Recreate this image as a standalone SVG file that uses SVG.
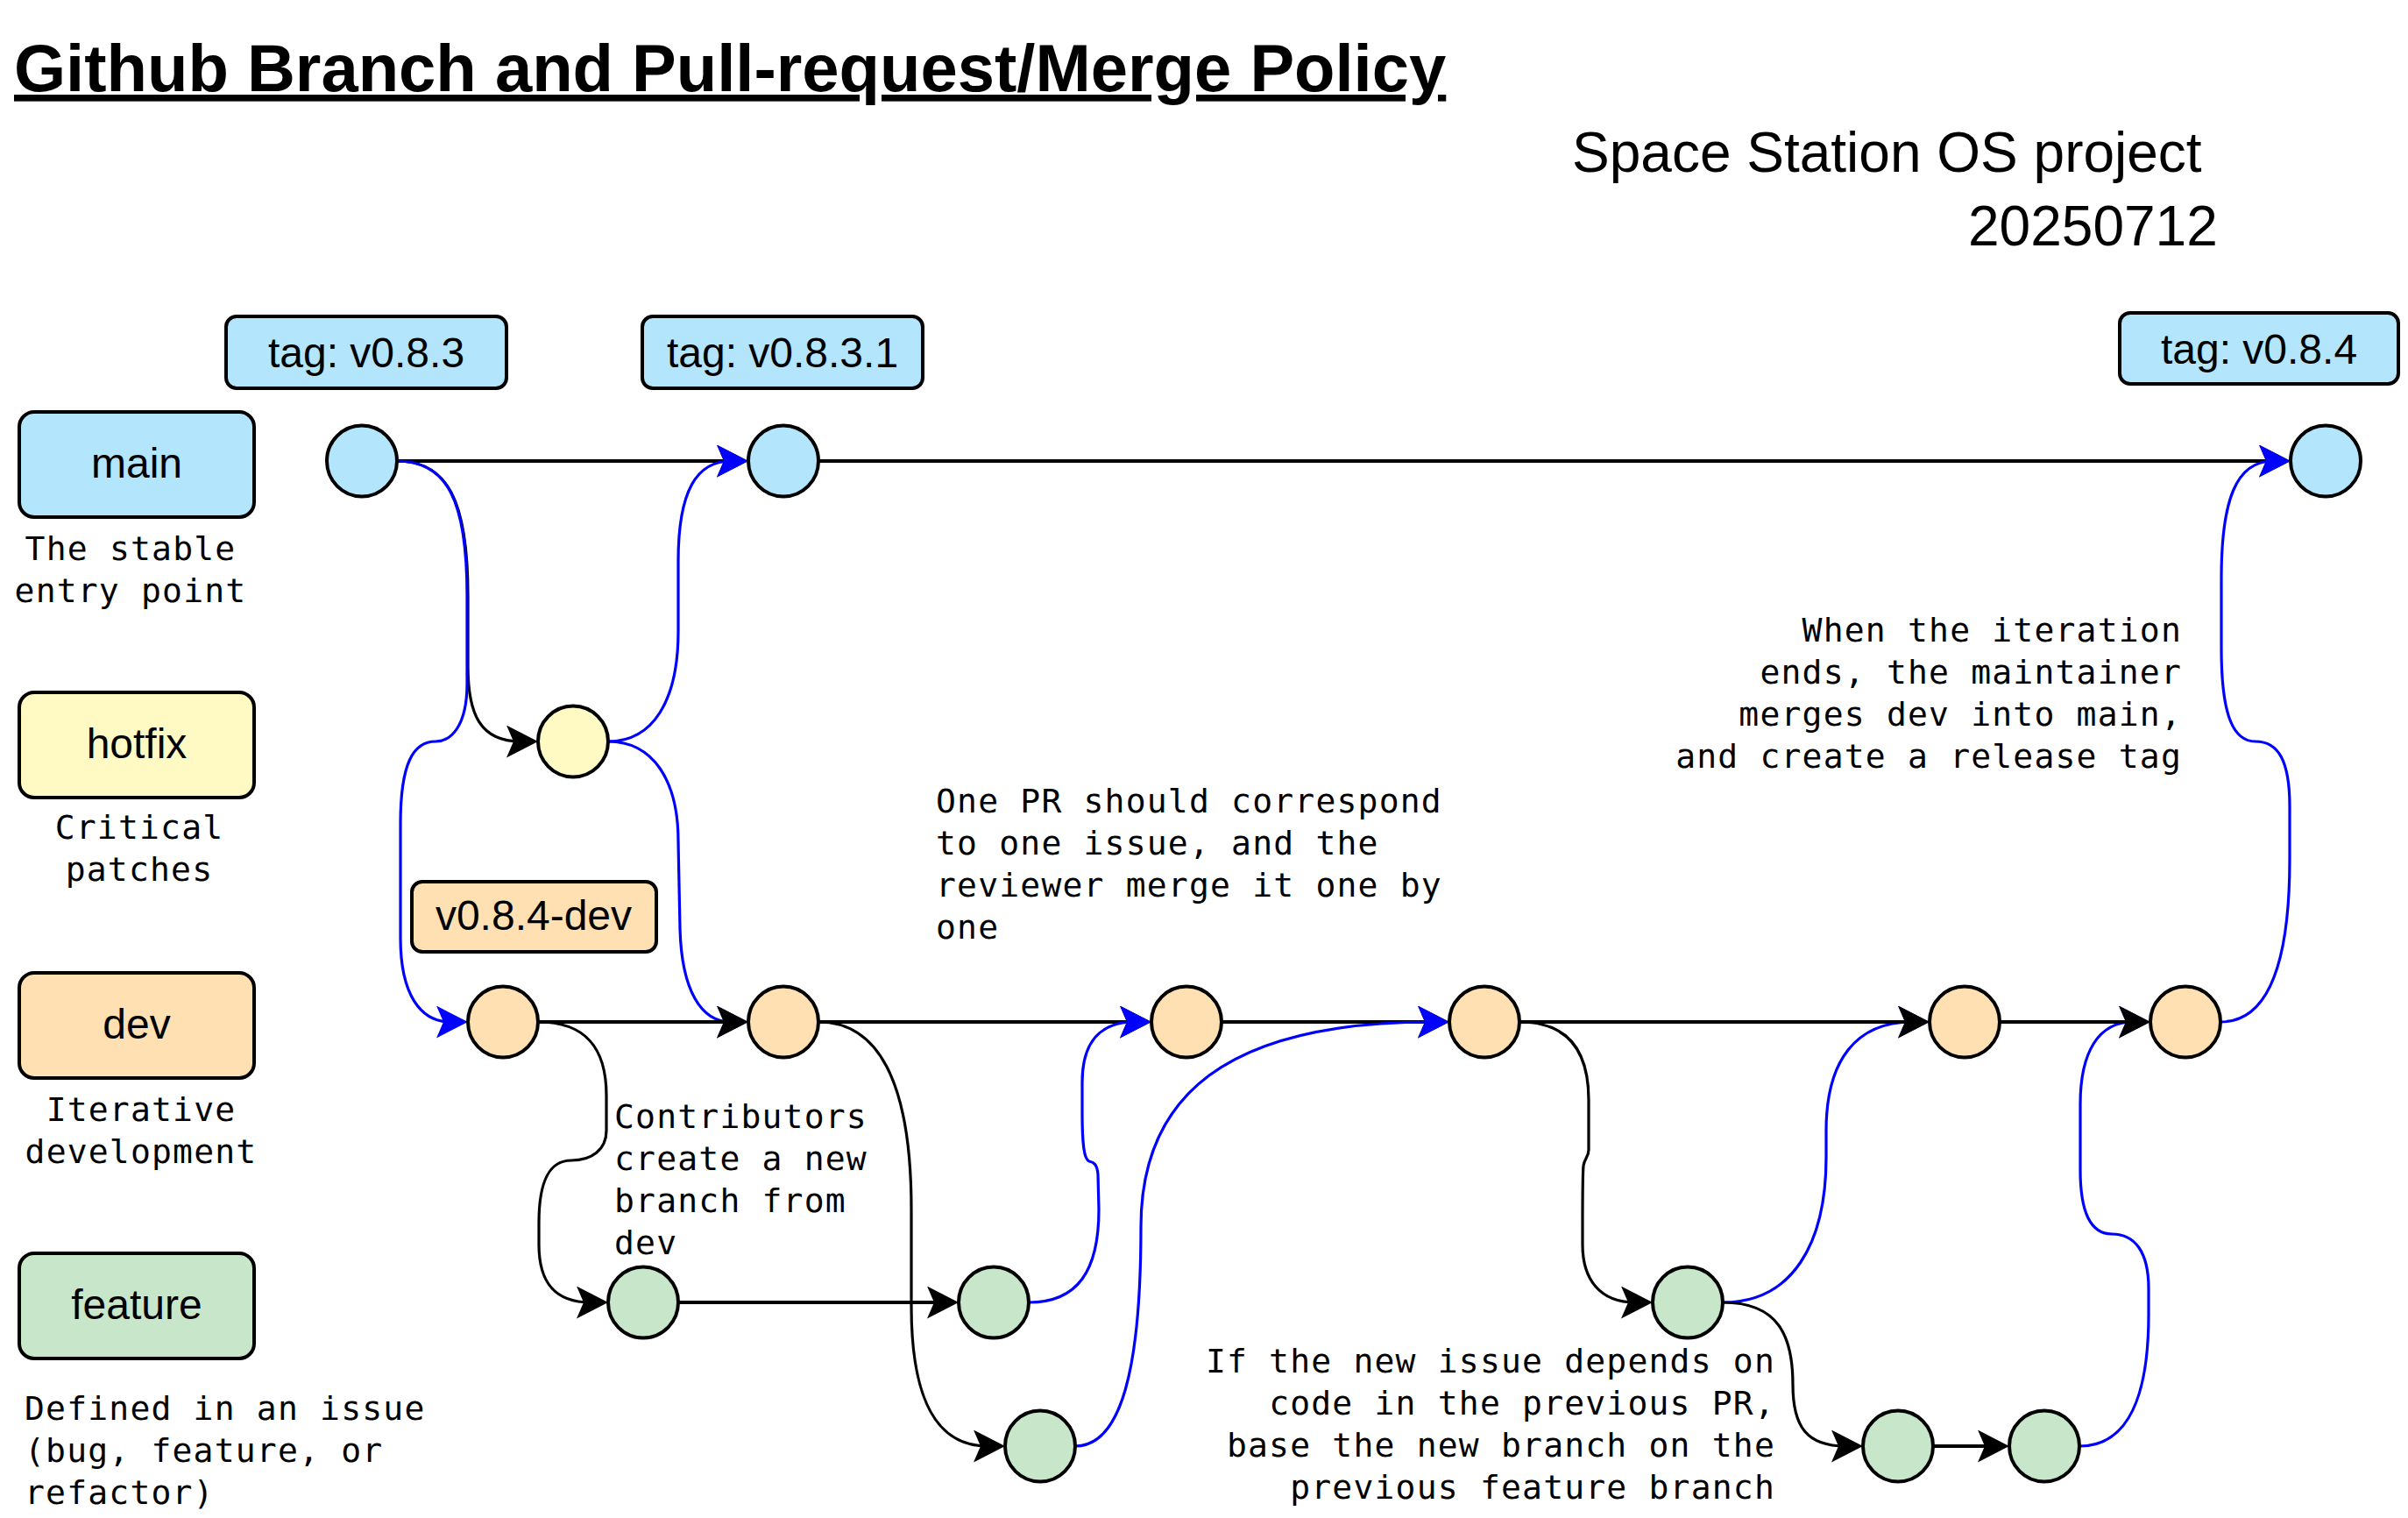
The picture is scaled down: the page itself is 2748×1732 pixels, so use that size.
<svg xmlns="http://www.w3.org/2000/svg" width="2748" height="1732" viewBox="0 0 2748 1732">
<style>
.bg{fill:#ffffff}
.box{stroke:#000;stroke-width:4}
.c{stroke:#000;stroke-width:4}
.main{fill:#b3e5fc}
.hot{fill:#fff9c4}
.dev{fill:#ffe0b2}
.feat{fill:#c8e6c9}
.lbl{font-family:"Liberation Sans",Arial,sans-serif;font-size:48px;fill:#000;text-anchor:middle}
.note{font-family:"DejaVu Sans Mono",monospace;font-size:38px;letter-spacing:1.2px;fill:#000}
.mid{text-anchor:middle}
.end{text-anchor:end}
.e{fill:none;stroke-width:3.2}
.s{fill:none;stroke-width:4}
.k{stroke:#000}
.b{stroke:#0000ff}
.ka{marker-end:url(#arrK)}
.ba{marker-end:url(#arrB)}
</style>
<defs>
<marker id="arrK" markerUnits="userSpaceOnUse" viewBox="0 0 36 37" refX="16" refY="18.5" markerWidth="36" markerHeight="37" orient="auto">
<path d="M0 0 L36 18.5 L0 37 L8 18.5 Z" fill="#000"/>
</marker>
<marker id="arrB" markerUnits="userSpaceOnUse" viewBox="0 0 36 37" refX="16" refY="18.5" markerWidth="36" markerHeight="37" orient="auto">
<path d="M0 0 L36 18.5 L0 37 L8 18.5 Z" fill="#0000ff"/>
</marker>
</defs>
<rect class="bg" x="0" y="0" width="2748" height="1732"/>

<g id="title">
<text x="16" y="104" font-family="'Liberation Sans',Arial,sans-serif" font-size="76" font-weight="bold" text-decoration="underline">Github Branch and Pull-request/Merge Policy</text>
<text x="1794" y="196" font-family="'Liberation Sans',Arial,sans-serif" font-size="64">Space Station OS project</text>
<text x="2246" y="280" font-family="'Liberation Sans',Arial,sans-serif" font-size="64">20250712</text>
</g>

<g id="branch-main">
<rect class="box main" x="22" y="470" width="268" height="120" rx="17"/>
<text class="lbl" x="156" y="545">main</text>
<text class="note mid" x="149" y="639">The stable</text>
<text class="note mid" x="149" y="687">entry point</text>
</g>
<g id="branch-hotfix">
<rect class="box hot" x="22" y="790" width="268" height="120" rx="17"/>
<text class="lbl" x="156" y="865">hotfix</text>
<text class="note mid" x="159" y="957">Critical</text>
<text class="note mid" x="159" y="1005">patches</text>
</g>
<g id="branch-dev">
<rect class="box dev" x="22" y="1110" width="268" height="120" rx="17"/>
<text class="lbl" x="156" y="1185">dev</text>
<text class="note mid" x="161" y="1279">Iterative</text>
<text class="note mid" x="161" y="1327">development</text>
</g>
<g id="branch-feature">
<rect class="box feat" x="22" y="1430" width="268" height="120" rx="17"/>
<text class="lbl" x="156" y="1505">feature</text>
<text class="note" x="28" y="1620">Defined in an issue</text>
<text class="note" x="28" y="1668">(bug, feature, or</text>
<text class="note" x="28" y="1716">refactor)</text>
</g>

<g id="tag-v083">
<rect class="box main" x="258" y="361" width="320" height="82" rx="12"/>
<text class="lbl" x="418" y="419">tag: v0.8.3</text>
</g>
<g id="tag-v0831">
<rect class="box main" x="733" y="361" width="320" height="82" rx="12"/>
<text class="lbl" x="893" y="419">tag: v0.8.3.1</text>
</g>
<g id="tag-v084">
<rect class="box main" x="2419" y="357" width="318" height="81" rx="12"/>
<text class="lbl" x="2578" y="415">tag: v0.8.4</text>
</g>
<g id="tag-v084dev">
<rect class="box dev" x="470" y="1006" width="279" height="80" rx="12"/>
<text class="lbl" x="609" y="1061" font-size="44">v0.8.4-dev</text>
</g>

<g id="notes">
<text class="note" x="701" y="1287">Contributors</text>
<text class="note" x="701" y="1335">create a new</text>
<text class="note" x="701" y="1383">branch from</text>
<text class="note" x="701" y="1431">dev</text>
<text class="note" x="1068" y="927">One PR should correspond</text>
<text class="note" x="1068" y="975">to one issue, and the</text>
<text class="note" x="1068" y="1023">reviewer merge it one by</text>
<text class="note" x="1068" y="1071">one</text>
<text class="note end" x="2490" y="732">When the iteration</text>
<text class="note end" x="2490" y="780">ends, the maintainer</text>
<text class="note end" x="2490" y="828">merges dev into main,</text>
<text class="note end" x="2490" y="876">and create a release tag</text>
<text class="note end" x="2026" y="1566">If the new issue depends on</text>
<text class="note end" x="2026" y="1614">code in the previous PR,</text>
<text class="note end" x="2026" y="1662">base the new branch on the</text>
<text class="note end" x="2026" y="1710">previous feature branch</text>
</g>

<g id="connectors">
<path class="s k ka" d="M453 526 H834"/>
<path class="s k ka" d="M934 526 H2594"/>
<path class="s k ka" d="M934 1166 H1294"/>
<path class="s k ka" d="M1394 1166 H1634"/>
<path class="e k ka" d="M453 526 C510 526 534 570 534 680 L534 760 C534 815 548 846 594 846"/>

<path class="e b ba" d="M453 526 C510 526 533 570 533 680 L533 780 C533 828 515 846 497 846 C472 846 457 870 457 940 L457 1070 C457 1135 480 1166 514 1166"/>
<path class="e b ba" d="M694 846 C745 846 774 800 774 720 L774 640 C774 560 795 526 834 526"/>
<path class="e b ba" d="M694 846 C745 846 774 890 774 960 L776 1060 C778 1130 800 1166 834 1166"/>
<path class="e b ba" d="M1174 1486 C1230 1486 1254 1450 1254 1380 L1253 1340 C1252 1328 1248 1326 1243 1325 C1237 1323 1235 1305 1235 1270 L1235 1235 C1235 1190 1255 1166 1294 1166"/>
<path class="e b ba" d="M1227 1650 C1280 1650 1302 1560 1302 1400 C1302 1250 1400 1166 1634 1166"/>
<path class="e b ba" d="M1966 1486 C2045 1486 2084 1420 2084 1320 L2084 1290 C2084 1210 2118 1166 2182 1166"/>
<path class="e b ba" d="M2373 1650 C2430 1650 2452 1590 2452 1500 L2452 1470 C2452 1428 2436 1408 2410 1408 C2386 1408 2374 1385 2374 1335 L2374 1260 C2374 1200 2395 1166 2434 1166"/>
<path class="e b ba" d="M2534 1166 C2592 1166 2613 1090 2613 980 L2613 920 C2613 868 2600 846 2574 846 C2550 846 2535 820 2535 740 L2535 660 C2535 570 2552 526 2594 526"/>

<path class="s k ka" d="M614 1166 H834"/>
<path class="s k ka" d="M1734 1166 H2182"/>
<path class="s k ka" d="M2282 1166 H2434"/>
<path class="s k ka" d="M774 1486 H1074"/>
<path class="s k ka" d="M2206 1650 H2273"/>
<path class="e k ka" d="M614 1166 C668 1166 692 1195 692 1250 L692 1290 C692 1312 675 1324 652 1324 C628 1324 615 1345 615 1395 L615 1420 C615 1462 632 1486 674 1486"/>
<path class="e k ka" d="M934 1166 C1000 1166 1040 1230 1040 1380 L1040 1490 C1040 1600 1070 1650 1127 1650"/>
<path class="e k ka" d="M1734 1166 C1790 1166 1813 1200 1813 1255 L1813 1312 C1813 1320 1808 1322 1807 1330 C1806 1340 1806 1365 1806 1400 L1806 1420 C1806 1460 1826 1486 1866 1486"/>
<path class="e k ka" d="M1966 1486 C2030 1486 2046 1525 2046 1580 C2046 1628 2062 1650 2106 1650"/>
</g>

<g id="commit-main-1"><ellipse class="c main" cx="413" cy="526" rx="40" ry="40.5"/></g>
<g id="commit-main-2"><ellipse class="c main" cx="894" cy="526" rx="40" ry="40.5"/></g>
<g id="commit-main-3"><ellipse class="c main" cx="2654" cy="526" rx="40" ry="40.5"/></g>
<g id="commit-hotfix-1"><ellipse class="c hot" cx="654" cy="846" rx="40" ry="40.5"/></g>
<g id="commit-dev-1"><ellipse class="c dev" cx="574" cy="1166" rx="40" ry="40.5"/></g>
<g id="commit-dev-2"><ellipse class="c dev" cx="894" cy="1166" rx="40" ry="40.5"/></g>
<g id="commit-dev-3"><ellipse class="c dev" cx="1354" cy="1166" rx="40" ry="40.5"/></g>
<g id="commit-dev-4"><ellipse class="c dev" cx="1694" cy="1166" rx="40" ry="40.5"/></g>
<g id="commit-dev-5"><ellipse class="c dev" cx="2242" cy="1166" rx="40" ry="40.5"/></g>
<g id="commit-dev-6"><ellipse class="c dev" cx="2494" cy="1166" rx="40" ry="40.5"/></g>
<g id="commit-feature-1"><ellipse class="c feat" cx="734" cy="1486" rx="40" ry="40.5"/></g>
<g id="commit-feature-2"><ellipse class="c feat" cx="1134" cy="1486" rx="40" ry="40.5"/></g>
<g id="commit-feature-3"><ellipse class="c feat" cx="1187" cy="1650" rx="40" ry="40.5"/></g>
<g id="commit-feature-4"><ellipse class="c feat" cx="1926" cy="1486" rx="40" ry="40.5"/></g>
<g id="commit-feature-5"><ellipse class="c feat" cx="2166" cy="1650" rx="40" ry="40.5"/></g>
<g id="commit-feature-6"><ellipse class="c feat" cx="2333" cy="1650" rx="40" ry="40.5"/></g>
</svg>
